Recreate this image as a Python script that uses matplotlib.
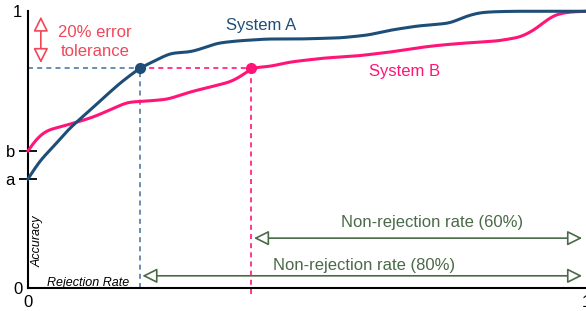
import numpy as np
import matplotlib.pyplot as plt
from matplotlib.patches import FancyArrowPatch

plt.rcParams['font.family'] = ['Liberation Sans', 'DejaVu Sans']

# accuracy vs rejection rate
sys_a_x = [0.0, 0.022, 0.045, 0.075, 0.106, 0.135, 0.165, 0.201, 0.219, 0.255, 0.291,
           0.314, 0.339, 0.375, 0.429, 0.488, 0.560, 0.609, 0.650, 0.698, 0.740, 0.758,
           0.781, 0.806, 0.829, 0.870, 1.0]
sys_a_y = [0.394, 0.462, 0.509, 0.578, 0.632, 0.686, 0.740, 0.795, 0.812, 0.848, 0.852,
           0.866, 0.884, 0.892, 0.899, 0.899, 0.903, 0.913, 0.931, 0.946, 0.953, 0.957,
           0.978, 0.993, 0.997, 0.999, 0.999]
sys_b_x = [0.0, 0.016, 0.034, 0.057, 0.088, 0.117, 0.147, 0.178, 0.214, 0.250, 0.291,
           0.327, 0.363, 0.386, 0.400, 0.434, 0.470, 0.530, 0.591, 0.650, 0.709, 0.740,
           0.781, 0.842, 0.883, 0.907, 0.925, 0.943, 0.968, 0.996, 1.0]
sys_b_y = [0.495, 0.542, 0.570, 0.581, 0.599, 0.617, 0.643, 0.671, 0.675, 0.681, 0.708,
           0.726, 0.744, 0.769, 0.795, 0.800, 0.816, 0.830, 0.838, 0.852, 0.870, 0.877,
           0.884, 0.892, 0.906, 0.931, 0.960, 0.986, 0.996, 0.999, 0.999]
a_val, b_val = 0.394, 0.495
target = 0.795
rej_a, rej_b = 0.20, 0.40

BLUE = '#1d4e78'
BLUE_DASH = '#4d7ca6'
PINK = '#ff1577'
RED = '#f0475a'
GREEN = '#4a6a48'


def smooth_curve(x, y, n=1000, sigma=9):
    # linear through the read points, then a gaussian pass to round the corners
    xs = np.linspace(0, 1, n)
    ys = np.interp(xs, x, y)
    pad = 4 * sigma
    left = 2 * ys[0] - ys[pad:0:-1]
    right = 2 * ys[-1] - ys[-2:-pad - 2:-1]
    ext = np.concatenate([left, ys, right])
    k = np.arange(-pad, pad + 1)
    w = np.exp(-0.5 * (k / sigma) ** 2)
    w /= w.sum()
    return xs, np.convolve(ext, w, mode='valid')


fig = plt.figure(figsize=(5.86, 3.11), dpi=100)
ax = fig.add_axes([28 / 586, 23 / 311, 558 / 586, 277 / 311])
ax.set_xlim(0, 1)
ax.set_ylim(0, 1)

xb, yb = smooth_curve(sys_b_x, sys_b_y)
xa, ya = smooth_curve(sys_a_x, sys_a_y)
ax.plot(xb, np.minimum(yb, 1), color=PINK, lw=2.2, clip_on=False, zorder=3)
ax.plot(xa, np.minimum(ya, 1), color=BLUE, lw=2.2, clip_on=False, zorder=4)

# threshold guides
dash = (0, (3, 2.5))
ax.plot([0, rej_a], [target, target], ls=dash, color=BLUE_DASH, lw=1.2, zorder=2)
ax.plot([rej_a, rej_a], [0, target], ls=dash, color=BLUE_DASH, lw=1.2, zorder=2)
ax.plot([rej_a, rej_b], [target, target], ls=dash, color=PINK, lw=1.2, zorder=2)
ax.plot([rej_b, rej_b], [-0.02, target], ls=dash, color=PINK, lw=1.2,
        zorder=2, clip_on=False)
ax.plot(rej_a, target, 'o', color=BLUE, ms=7, zorder=5)
ax.plot(rej_b, target, 'o', color=PINK, ms=7, zorder=5)

# error tolerance arrow
ax.add_patch(FancyArrowPatch((0.023, 0.802), (0.023, 0.99),
                             arrowstyle='<|-|>,head_length=6,head_width=3',
                             mutation_scale=1.5, lw=1.2, ec=RED, fc='white',
                             clip_on=False, zorder=3))
ax.text(0.12, 0.888, '20% error\ntolerance', color=RED, fontsize=12,
        ha='center', va='center', linespacing=1.3)

ax.text(0.418, 0.949, 'System A', color=BLUE, fontsize=12, ha='center', va='center')
ax.text(0.674, 0.78, 'System B', color=PINK, fontsize=12, ha='center', va='center')

# non-rejection spans
spans = [(rej_b, 0.18, 'Non-rejection rate (60%)', 0.725, 0.237),
         (rej_a, 0.044, 'Non-rejection rate (80%)', 0.602, 0.083)]
for x0, yy, label, tx, ty in spans:
    ax.add_patch(FancyArrowPatch((x0, yy), (0.998, yy),
                                 arrowstyle='<|-|>,head_length=6,head_width=3',
                                 mutation_scale=1.5, lw=1.2, ec=GREEN, fc='white',
                                 clip_on=False, zorder=3))
    ax.text(tx, ty, label, color=GREEN, fontsize=12, ha='center', va='center')

ax.text(0.017, 0.17, 'Accuracy', rotation=90, style='italic', fontsize=9,
        ha='center', va='center')
ax.text(0.034, 0.017, 'Rejection Rate', style='italic', fontsize=9,
        ha='left', va='center')

for side in ('top', 'right'):
    ax.spines[side].set_visible(False)
ax.spines['left'].set_linewidth(1.5)
ax.spines['bottom'].set_linewidth(1.5)

ax.set_xticks([0, 1], labels=['0', '1'])
ax.set_yticks([0, 1], labels=['0', '1'])
ax.set_yticks([a_val, b_val], labels=['a', 'b'], minor=True)
ax.tick_params(axis='both', which='major', length=0, labelsize=12, pad=4)
ax.tick_params(axis='x', which='major', pad=5)
ax.tick_params(axis='y', which='minor', direction='inout', length=13, width=1.3,
               labelsize=12, pad=3)

fig.savefig('out.png', dpi=100)
